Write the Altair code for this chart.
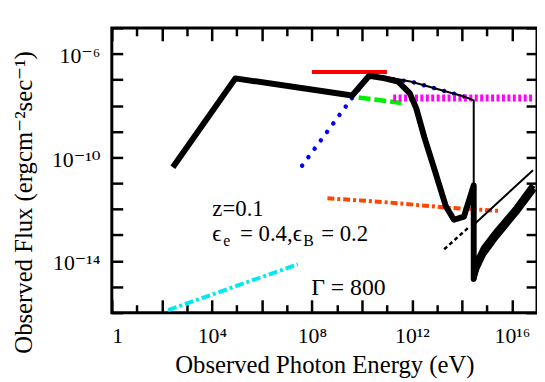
import altair as alt
import pandas as pd

FONT = "'Liberation Serif', 'DejaVu Serif', serif"

# ---------------- data: log10(E / eV), log10(flux / erg cm^-2 s^-1) ----------------
thick_logE = [2.44, 4.94, 9.61, 10.29, 10.92, 11.45, 11.91, 12.17, 12.50, 12.89, 13.36,
              13.68, 14.08, 14.47, 14.47, 14.60, 14.87, 15.39, 16.18, 16.84]
thick_logF = [-10.38, -6.95, -7.61, -6.85, -6.95, -7.08, -7.52, -8.10, -9.24, -10.44, -11.90,
              -12.41, -12.29, -11.08, -14.70, -14.05, -13.50, -12.85, -11.95, -11.08]

band_logE = [14.47, 14.60, 14.87, 15.39, 16.18, 16.90]
band_logF = [-14.70, -14.30, -13.75, -13.07, -12.15, -11.22]

thin_logE = [10.29, 10.92, 11.98, 14.08, 14.47, 14.47, 16.84]
thin_logF = [-6.85, -6.89, -7.08, -7.65, -7.80, -12.60, -10.50]

blue_logE = [7.61, 9.58, 10.29, 11.98, 14.08, 14.40]
blue_logF = [-10.32, -7.74, -6.85, -7.08, -7.65, -7.78]

red_logE = [8.0, 11.0]
red_logF = [-6.70, -6.70]

green_logE = [9.87, 11.58]
green_logF = [-7.69, -7.90]

magenta_logE = [11.25, 16.84]
magenta_logF = [-7.71, -7.71]

orange_logE = [8.62, 10.92, 13.36, 15.52]
orange_logF = [-11.58, -11.73, -11.94, -12.07]

cyan_logE = [2.25, 7.44]
cyan_logF = [-15.90, -14.13]

dash_logE = [13.29, 14.31]
dash_logF = [-13.55, -12.67]

x_major = [0, 2, 4, 6, 8, 10, 12, 14, 16]
x_minor = [1, 3, 5, 7, 9, 11, 13, 15, 17]
y_ticks = [-16, -15, -14, -13, -12, -11, -10, -9, -8, -7, -6, -5]

ann_z = ("z=0.1", 4.02, -12.28)
ann_eps = (4.02, -13.24)
ann_gamma = ("Γ = 800", 7.97, -15.30)

# ---------------- chart ----------------
xs = alt.Scale(type="log", domain=[1, 1e17])
ys = alt.Scale(type="log", domain=[1e-16, 1e-5])


def line_df(logE, logF):
    return pd.DataFrame({"E": [10.0 ** v for v in logE],
                         "F": [10.0 ** v for v in logF],
                         "i": list(range(len(logE)))})


def line_layer(logE, logF, **mark):
    return alt.Chart(line_df(logE, logF)).mark_line(clip=True, **mark).encode(
        x=alt.X("E:Q", scale=xs, axis=None),
        y=alt.Y("F:Q", scale=ys, axis=None),
        order="i:Q",
    )


def text_layer(text, logE, logF, size=24, dx=0, dy=0):
    df = pd.DataFrame({"E": [10.0 ** logE], "F": [10.0 ** logF], "t": [text]})
    return alt.Chart(df).mark_text(
        align="left", baseline="alphabetic", font=FONT, fontSize=size,
        color="black", dx=dx, dy=dy,
    ).encode(
        x=alt.X("E:Q", scale=xs, axis=None),
        y=alt.Y("F:Q", scale=ys, axis=None),
        text="t:N",
    )


anchor_df = pd.DataFrame({"E": [10.0], "F": [1e-10]})


def axis_layer(xaxis=None, yaxis=None):
    return alt.Chart(anchor_df).mark_point(opacity=0).encode(
        x=alt.X("E:Q", scale=xs, axis=xaxis),
        y=alt.Y("F:Q", scale=ys, axis=yaxis),
    )


common = dict(domain=False, grid=False, tickColor="black", tickWidth=2.5,
              labelFont=FONT, labelFontSize=22, labelColor="black",
              titleFont=FONT, titleColor="black", titleFontWeight="normal")

x_label_expr = ("round(log(datum.value)/LN10) == 0 ? '1' : "
                "round(log(datum.value)/LN10) == 4 ? '10⁴' : "
                "round(log(datum.value)/LN10) == 8 ? '10⁸' : "
                "round(log(datum.value)/LN10) == 12 ? '10¹²' : "
                "round(log(datum.value)/LN10) == 16 ? '10¹⁶' : ''")
y_label_expr = ("round(log(datum.value)/LN10) == -6 ? '10⁻⁶' : "
                "round(log(datum.value)/LN10) == -10 ? '10⁻¹⁰' : "
                "round(log(datum.value)/LN10) == -14 ? '10⁻¹⁴' : ''")

x_bottom_major = alt.Axis(orient="bottom", values=[10.0 ** k for k in x_major],
                          tickSize=13, offset=-13, labelExpr=x_label_expr,
                          labelPadding=13, labelOverlap=False,
                          title="Observed Photon Energy (eV)", titleFontSize=25,
                          titleX=215, titleY=74,
                          titleBaseline="alphabetic", titleAlign="center", **common)
x_bottom_minor = alt.Axis(orient="bottom", values=[10.0 ** k for k in x_minor],
                          tickSize=8, offset=-8, labels=False, title=None, **common)
x_top_major = alt.Axis(orient="top", values=[10.0 ** k for k in x_major],
                       tickSize=13, offset=-13, labels=False, title=None, **common)
x_top_minor = alt.Axis(orient="top", values=[10.0 ** k for k in x_minor],
                       tickSize=8, offset=-8, labels=False, title=None, **common)
y_left = alt.Axis(orient="left", values=[10.0 ** k for k in y_ticks],
                  tickSize=11, offset=-11, labelExpr=y_label_expr, labelPadding=12,
                  labelOverlap=False, labelOffset=2,
                  title="Observed Flux (ergcm⁻²sec⁻¹)", titleFontSize=25,
                  titleX=-92, titleY=329,
                  titleAngle=270, titleAlign="left", titleBaseline="alphabetic", **common)
y_right = alt.Axis(orient="right", values=[10.0 ** k for k in y_ticks],
                   tickSize=11, offset=-11, labels=False, title=None, **common)

layers = [
    axis_layer(x_bottom_major, y_left),
    axis_layer(x_bottom_minor, None),
    axis_layer(x_top_major, y_right),
    axis_layer(x_top_minor, None),
    line_layer(cyan_logE, cyan_logF, color="#00e8f0", strokeWidth=4, strokeDash=[9, 3, 3, 3]),
    line_layer(orange_logE, orange_logF, color="#ff4500", strokeWidth=4, strokeDash=[7, 3, 3, 3]),
    line_layer(blue_logE, blue_logF, color="#0000ff", strokeWidth=4.5, strokeDash=[0.1, 10.5],
               strokeCap="round"),
    line_layer(green_logE, green_logF, color="#00ee00", strokeWidth=4.5, strokeDash=[12, 4]),
    line_layer(magenta_logE, magenta_logF, color="#ff00ff", strokeWidth=7, strokeDash=[3, 2.5]),
    line_layer(red_logE, red_logF, color="#ff0000", strokeWidth=4),
    line_layer(thick_logE, thick_logF, color="black", strokeWidth=6, strokeJoin="round"),
    line_layer(band_logE, band_logF, color="black", strokeWidth=5, strokeJoin="round"),
    line_layer(thin_logE, thin_logF, color="black", strokeWidth=2),
    line_layer(dash_logE, dash_logF, color="black", strokeWidth=2.5, strokeDash=[4, 3]),
    text_layer(ann_z[0], ann_z[1], ann_z[2], size=23),
    text_layer("ϵ", ann_eps[0], ann_eps[1], size=23),
    text_layer("e", ann_eps[0], ann_eps[1], size=16, dx=11, dy=5),
    text_layer("= 0.4,ϵ", ann_eps[0], ann_eps[1], size=23, dx=28),
    text_layer("B", ann_eps[0], ann_eps[1], size=16, dx=92, dy=5),
    text_layer("= 0.2", ann_eps[0], ann_eps[1], size=23, dx=110),
    text_layer(ann_gamma[0], ann_gamma[1], ann_gamma[2]),
]

chart = alt.layer(*layers).resolve_axis(x="independent", y="independent").properties(
    width=430, height=288,
    padding={"left": 105, "top": 18, "right": 0, "bottom": 68},
    autosize=alt.AutoSizeParams(type="none"),
    background="white",
).configure_view(stroke="black", strokeWidth=3)

chart.save("out.html", embed_options={"renderer": "svg", "actions": False})
